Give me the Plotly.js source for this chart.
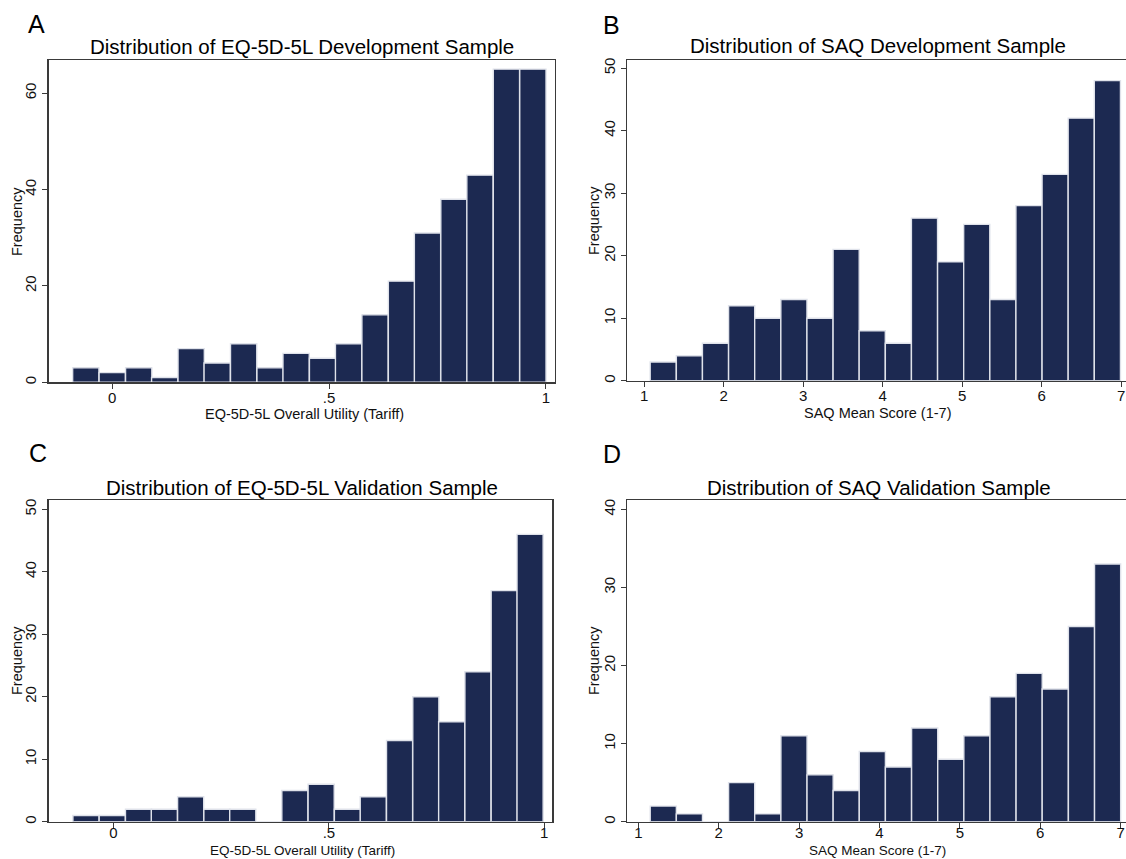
<!DOCTYPE html>
<html>
<head>
<meta charset="utf-8">
<script src="https://cdn.plot.ly/plotly-3.0.1.min.js"></script>
<style>
  html, body { margin: 0; padding: 0; background: #fff; }
  #chart { width: 1126px; height: 859px; }
</style>
</head>
<body>
<div id="chart"></div>
<script>
// ---------- DATA ----------
// Panel A: EQ-5D-5L development sample (bin centres, frequencies)
const eqDevBins = [-0.061, 0.000, 0.061, 0.121, 0.182, 0.242, 0.303, 0.364, 0.424, 0.485, 0.545, 0.606, 0.667, 0.727, 0.788, 0.848, 0.909, 0.970];
const eqDevFreq = [3, 2, 3, 1, 7, 4, 8, 3, 6, 5, 8, 14, 21, 31, 38, 43, 65, 65];

// Panel B: SAQ development sample
const saqDevBins = [1.241, 1.570, 1.898, 2.227, 2.555, 2.884, 3.212, 3.541, 3.869, 4.198, 4.526, 4.855, 5.183, 5.512, 5.840, 6.169, 6.497, 6.826];
const saqDevFreq = [3, 4, 6, 12, 10, 13, 10, 21, 8, 6, 26, 19, 25, 13, 28, 33, 42, 48];

// Panel C: EQ-5D-5L validation sample
const eqValBins = [-0.064, -0.003, 0.058, 0.118, 0.179, 0.240, 0.300, 0.361, 0.421, 0.482, 0.543, 0.603, 0.664, 0.725, 0.785, 0.846, 0.907, 0.967];
const eqValFreq = [1, 1, 2, 2, 4, 2, 2, 0, 5, 6, 2, 4, 13, 20, 16, 24, 37, 46];

// Panel D: SAQ validation sample
const saqValBins = [1.310, 1.635, 1.960, 2.285, 2.610, 2.936, 3.261, 3.586, 3.911, 4.236, 4.562, 4.887, 5.212, 5.537, 5.862, 6.187, 6.513, 6.838];
const saqValFreq = [2, 1, 0, 5, 1, 11, 6, 4, 9, 7, 12, 8, 11, 16, 19, 17, 25, 33];

// Tick labels
const eqTickVals = [0, 0.5, 1];
const eqTickText = ['0', '.5', '1'];
const saqTickVals = [1, 2, 3, 4, 5, 6, 7];
const saqTickText = ['1', '2', '3', '4', '5', '6', '7'];

// Texts
const panelLetters = ['A', 'B', 'C', 'D'];
const panelTitles = [
  'Distribution of EQ-5D-5L Development Sample',
  'Distribution of SAQ Development Sample',
  'Distribution of EQ-5D-5L Validation Sample',
  'Distribution of SAQ Validation Sample'
];
const xTitles = [
  'EQ-5D-5L Overall Utility (Tariff)',
  'SAQ Mean Score (1-7)',
  'EQ-5D-5L Overall Utility (Tariff)',
  'SAQ Mean Score (1-7)'
];
const yTitle = 'Frequency';

// ---------- STYLE / LAYOUT ----------
const W = 1126, H = 859;
const FONT = '"Liberation Sans", Arial, Helvetica, sans-serif';
const BAR_FILL = '#1c2951';
const BAR_EDGE = '#dfe2ea';
const LINE = '#3a3a3a';

const px = v => v / W;
const py = v => 1 - v / H;

// panel geometry in pixels: [left, right, top, bottom]
const geo = [
  [48.5, 555.0, 60.0, 382.3],
  [626.9, 1126.0, 60.0, 380.7],
  [48.5, 552.3, 500.0, 821.7],
  [626.8, 1126.0, 500.0, 821.7]
];
const xRanges = [[-0.147, 1.021], [0.784, 7.06], [-0.151, 1.0186], [0.856, 7.067]];
const yRanges = [[0, 66.9], [0, 51.3], [0, 51.5], [0, 41.2]];
const yDtick = [20, 10, 10, 10];
const barWidths = [0.0606, 0.3285, 0.0606, 0.3252];

const binsList = [eqDevBins, saqDevBins, eqValBins, saqValBins];
const freqList = [eqDevFreq, saqDevFreq, eqValFreq, saqValFreq];

const traces = binsList.map((bins, i) => ({
  type: 'bar',
  x: bins,
  y: freqList[i],
  width: barWidths[i],
  xaxis: i === 0 ? 'x' : 'x' + (i + 1),
  yaxis: i === 0 ? 'y' : 'y' + (i + 1),
  marker: { color: BAR_FILL, line: { color: BAR_EDGE, width: 1.4 } },
  hoverinfo: 'skip',
  showlegend: false
}));

const layout = {
  width: W, height: H,
  margin: { l: 0, r: 0, t: 0, b: 0 },
  paper_bgcolor: '#fff',
  plot_bgcolor: '#fff',
  font: { family: FONT, color: '#111', size: 15 },
  bargap: 0,
  showlegend: false,
  annotations: []
};

// title / label positions in pixels
const letterPos = [[36, 24], [611, 25], [38, 453], [611.5, 454]];
const titlePos = [[302, 47], [878, 46], [302, 487], [879, 487]];
const xTitlePos = [[304, 414], [877, 413], [302, 850], [877, 850]];
const yTitlePos = [[17, 222], [594, 221], [17, 661], [594, 661]];
const xTitleSize = [14.5, 14.5, 13.5, 13.5];

for (let i = 0; i < 4; i++) {
  const g = geo[i];
  const sfx = i === 0 ? '' : String(i + 1);
  const isEq = (i % 2 === 0);
  layout['xaxis' + sfx] = {
    domain: [px(g[0]), px(g[1])],
    range: xRanges[i],
    anchor: 'y' + sfx,
    tickmode: 'array',
    tickvals: isEq ? eqTickVals : saqTickVals,
    ticktext: isEq ? eqTickText : saqTickText,
    ticks: 'outside', ticklen: 5, tickwidth: 1, tickcolor: LINE,
    ticklabelstandoff: i < 2 ? -4 : -8,
    showline: true, linecolor: LINE, linewidth: 1.2, mirror: true,
    showgrid: false, zeroline: false,
    tickfont: { family: FONT, size: 15, color: '#111' },
    fixedrange: true
  };
  layout['yaxis' + sfx] = {
    domain: [py(g[3]), py(g[2])],
    range: yRanges[i],
    anchor: 'x' + sfx,
    dtick: yDtick[i], tick0: 0,
    tickangle: -90,
    ticks: 'outside', ticklen: 5, tickwidth: 1, tickcolor: LINE,
    showline: true, linecolor: LINE, linewidth: 1.2, mirror: true,
    showgrid: false, zeroline: false,
    tickfont: { family: FONT, size: 15, color: '#111' },
    fixedrange: true
  };
  layout.annotations.push({
    xref: 'paper', yref: 'paper', x: px(letterPos[i][0]), y: py(letterPos[i][1]),
    xanchor: 'center', yanchor: 'middle', showarrow: false,
    text: panelLetters[i], font: { family: FONT, size: 25, color: '#000' }
  });
  layout.annotations.push({
    xref: 'paper', yref: 'paper', x: px(titlePos[i][0]), y: py(titlePos[i][1]),
    xanchor: 'center', yanchor: 'middle', showarrow: false,
    text: panelTitles[i], font: { family: FONT, size: 20.5, color: '#000' }
  });
  layout.annotations.push({
    xref: 'paper', yref: 'paper', x: px(xTitlePos[i][0]), y: py(xTitlePos[i][1]),
    xanchor: 'center', yanchor: 'middle', showarrow: false,
    text: xTitles[i], font: { family: FONT, size: xTitleSize[i], color: '#111' }
  });
  layout.annotations.push({
    xref: 'paper', yref: 'paper', x: px(yTitlePos[i][0]), y: py(yTitlePos[i][1]),
    xanchor: 'center', yanchor: 'middle', showarrow: false, textangle: -90,
    text: yTitle, font: { family: FONT, size: 14.5, color: '#111' }
  });
}

Plotly.newPlot('chart', traces, layout, { staticPlot: true, displayModeBar: false });
</script>
</body>
</html>
